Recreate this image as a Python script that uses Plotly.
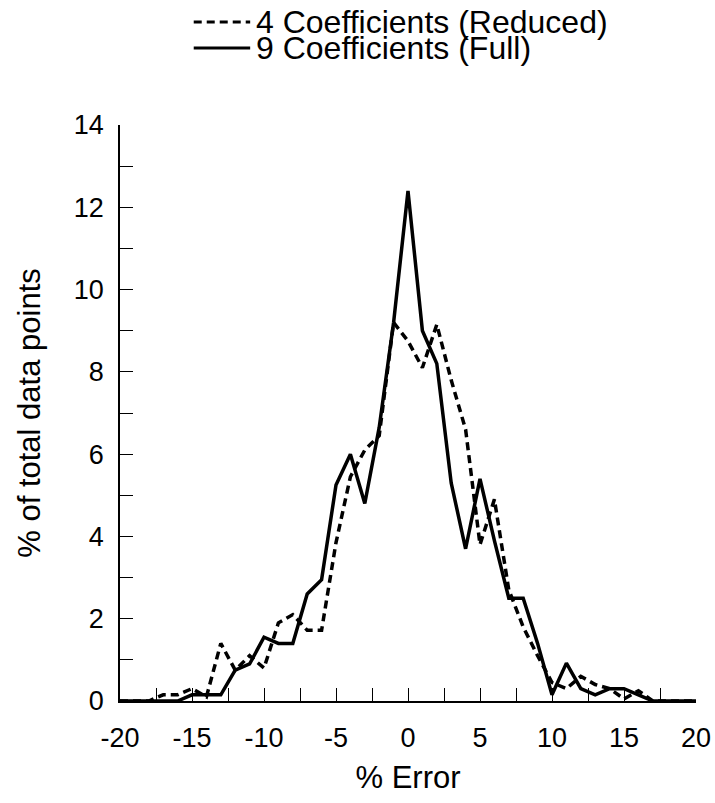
import plotly.graph_objects as go

# Error bins (% error) and share of data points in each bin
error_pct = list(range(-20, 21))

reduced_4coef = [
    0, 0, 0, 0.15, 0.15, 0.3, 0.1, 1.4, 0.75, 1.1,
    0.8, 1.9, 2.1, 1.72, 1.72, 3.85, 5.45, 6.1, 6.45, 9.2,
    8.75,
    8.1, 9.15, 7.8, 6.6, 3.8, 4.9, 2.7, 1.8, 1.1, 0.45,
    0.3, 0.6, 0.4, 0.3, 0.05, 0.25, 0, 0, 0, 0,
]

full_9coef = [
    0, 0, 0, 0, 0, 0.15, 0.15, 0.15, 0.75, 0.9,
    1.55, 1.4, 1.4, 2.6, 2.95, 5.25, 6.0, 4.8, 6.65, 9.2,
    12.4,
    9.0, 8.2, 5.3, 3.7, 5.4, 3.9, 2.5, 2.5, 1.4, 0.15,
    0.92, 0.3, 0.15, 0.3, 0.3, 0.15, 0, 0, 0, 0,
]

series_names = ["4 Coefficients (Reduced)", "9 Coefficients (Full)"]

# Axis tick positions and labels (plain hyphen for negatives)
x_tickvals = [-20, -15, -10, -5, 0, 5, 10, 15, 20]
x_ticktext = ["-20", "-15", "-10", "-5", "0", "5", "10", "15", "20"]
y_tickvals = [0, 2, 4, 6, 8, 10, 12, 14]
y_ticktext = ["0", "2", "4", "6", "8", "10", "12", "14"]

FONT = "Liberation Sans, Arial, Helvetica, sans-serif"
DASH = "8px,5px"

fig = go.Figure()
fig.add_trace(go.Scatter(
    x=error_pct, y=reduced_4coef, mode="lines", name=series_names[0],
    line=dict(color="black", width=3.5, dash=DASH), showlegend=False,
))
fig.add_trace(go.Scatter(
    x=error_pct, y=full_9coef, mode="lines", name=series_names[1],
    line=dict(color="black", width=3.5), showlegend=False,
))

# Legend drawn above the plot area: sample line + label for each series
legend_rows = [(1.1788, DASH), (1.1337, "solid")]
for (ypos, dash), name in zip(legend_rows, series_names):
    fig.add_shape(type="line", xref="paper", yref="paper",
                  x0=0.128, x1=0.226, y0=ypos, y1=ypos,
                  line=dict(color="black", width=3, dash=dash))
    fig.add_annotation(xref="paper", yref="paper", x=0.2326, y=ypos,
                       text=name, showarrow=False, xanchor="left", yanchor="middle",
                       font=dict(family=FONT, size=32, color="black"))

fig.update_xaxes(
    range=[-20, 20], tickvals=x_tickvals, ticktext=x_ticktext,
    ticks="inside", ticklen=13, tickwidth=1.3, tickcolor="black",
    minor=dict(dtick=2.5, tick0=-20, ticks="inside", ticklen=13, tickwidth=1.3, tickcolor="black"),
    showline=True, linecolor="black", linewidth=1.5,
    showgrid=False, zeroline=False, automargin=False,
    tickfont=dict(family=FONT, size=27, color="black"),
    ticklabelstandoff=12,
    title=dict(text="% Error", font=dict(family=FONT, size=31, color="black"), standoff=14),
)
fig.update_yaxes(
    range=[0, 14], tickvals=y_tickvals, ticktext=y_ticktext,
    ticks="inside", ticklen=13, tickwidth=1.3, tickcolor="black",
    minor=dict(dtick=1, tick0=0, ticks="inside", ticklen=13, tickwidth=1.3, tickcolor="black"),
    showline=True, linecolor="black", linewidth=1.5,
    showgrid=False, zeroline=False, automargin=False,
    tickfont=dict(family=FONT, size=27, color="black"),
    ticklabelstandoff=9,
    title=dict(text="% of total data points", font=dict(family=FONT, size=31, color="black"), standoff=24),
)

fig.update_layout(
    width=715, height=803,
    margin=dict(l=120, r=19, t=125, b=102),
    paper_bgcolor="white", plot_bgcolor="white",
    showlegend=False,
)

fig.write_html("out.html")
